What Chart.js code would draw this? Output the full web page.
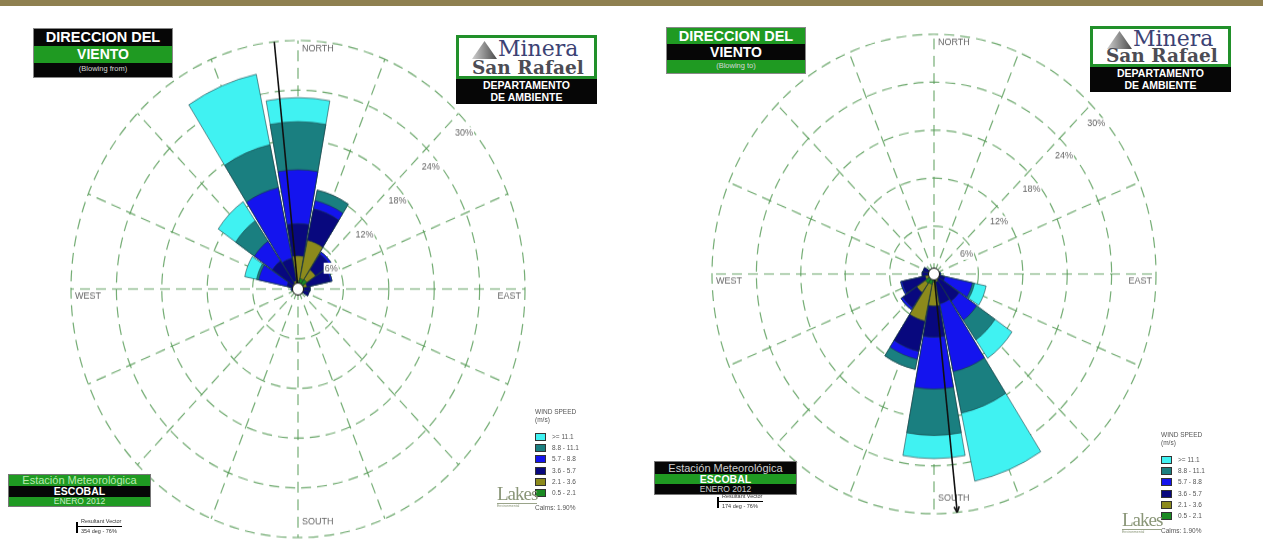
<!DOCTYPE html>
<html lang="es">
<head>
<meta charset="utf-8">
<title>Direccion del viento - Escobal</title>
<script src="https://cdn.jsdelivr.net/npm/chart.js@4.4.1/dist/chart.umd.min.js"></script>
<style>
  html, body { margin: 0; padding: 0; }
  body { width: 1263px; height: 541px; position: relative; overflow: hidden; background: #fff;
         font-family: "Liberation Sans", Arial, sans-serif; }
  #franja { position: absolute; left: 0; top: 0; width: 1263px; height: 6px; background: #8f8050; }
  canvas.rosa { position: absolute; transform-origin: 50% 50%; z-index: 1; }
  .caja { position: absolute; z-index: 2; }
  .titulo { width: 140px; box-sizing: border-box; border: 1px solid #888; }
  .titulo div { color: #fff; text-align: center; font-weight: bold; white-space: nowrap; overflow: hidden; }
  .negro { background: #060606; }
  .verde { background: #1f9a22; }
  .t1 { font-size: 14.5px; }
  .t2 { font-size: 14px; }
  .t3 { font-size: 7.5px; font-weight: normal !important; color: #d8d8d8 !important; }
  .logo { width: 141px; }
  .logo-blanco { position: relative; box-sizing: border-box; border: 3px solid #21902a; background: #fff; overflow: hidden; }
  .tri { position: absolute; width: 25px; height: 18px; clip-path: polygon(50% 0, 100% 100%, 0 100%);
         background: linear-gradient(90deg, #cfcfcf, #4a4a4a); }
  .minera { position: absolute; font-family: "DejaVu Serif", serif; font-size: 22px; line-height: 22px; color: #3c4274; }
  .sanrafael { position: absolute; font-family: "DejaVu Serif", serif; font-weight: bold; font-size: 18.5px; line-height: 19px;
               color: #4c4c54; white-space: nowrap; }
  .logo-negro { background: #060606; color: #fff; font-weight: bold; font-size: 10.5px; line-height: 11.5px;
                text-align: center; box-sizing: border-box; padding-top: 1px; }
  .estacion { width: 143px; box-sizing: border-box; border: 1px solid #777; }
  .estacion div { text-align: center; white-space: nowrap; overflow: hidden; }
  .e1 { font-size: 11px; color: #b9ecb0; }
  .e2 { font-size: 10.5px; font-weight: bold; color: #fff; }
  .e3 { font-size: 8.5px; color: #c9eec4; }
  .vector { width: 52px; height: 17px; }
  .vector .barra { position: absolute; left: 0; top: 5px; width: 1.5px; height: 11px; background: #000; }
  .vector .linea { position: absolute; left: 0; top: 9px; width: 46px; height: 1.3px; background: #000; }
  .vector .txt { position: absolute; left: 5px; font-size: 5.5px; color: #333; white-space: nowrap; }
  .leyenda { font-size: 6.5px; color: #555; width: 70px; }
  .leyenda .fila { position: absolute; left: 0; height: 8px; width: 70px; }
  .leyenda .muestra { position: absolute; left: 0; top: 0; width: 11px; height: 8px; box-sizing: border-box; border: 1px solid #333; }
  .leyenda .etq { position: absolute; left: 17px; top: 0; line-height: 8px; white-space: nowrap; }
  .lakes { font-family: "Liberation Serif", serif; font-size: 19px; line-height: 19px; color: #8a9678; letter-spacing: -1px; }
  .lakes span { display: block; font-family: "Liberation Sans", sans-serif; font-size: 3.5px; line-height: 4px;
                letter-spacing: 0; border-top: 1px solid #9aa48a; color: #8a9678; }
</style>
</head>
<body>
<div id="franja"></div>

<canvas id="rosaDesde" class="rosa" width="502" height="502" style="left:47px; top:38px; transform: scaleY(1.095);"></canvas>
<canvas id="rosaHacia" class="rosa" width="492" height="492" style="left:688px; top:28px; transform: scaleY(1.08);"></canvas>

<!-- titulos -->
<div class="caja titulo" style="left:33px; top:28px;">
  <div class="negro t1" style="height:17px; line-height:17px;">DIRECCION DEL</div>
  <div class="verde t2" style="height:17px; line-height:17px;">VIENTO</div>
  <div class="negro t3" style="height:14px; line-height:12px;">(Blowing from)</div>
</div>
<div class="caja titulo" style="left:666px; top:27px;">
  <div class="verde t1" style="height:16px; line-height:16px;">DIRECCION DEL</div>
  <div class="negro t2" style="height:16px; line-height:16px;">VIENTO</div>
  <div class="verde t3" style="height:13px; line-height:11px;">(Blowing to)</div>
</div>

<!-- logos -->
<div class="caja logo" style="left:456px; top:35px;">
  <div class="logo-blanco" style="height:44px;">
    <div class="tri" style="left:13px; top:3px;"></div>
    <div class="minera" style="left:39px; top:0px;">Minera</div>
    <div class="sanrafael" style="left:13px; top:20px;">San Rafael</div>
  </div>
  <div class="logo-negro" style="height:25px;">DEPARTAMENTO<br>DE AMBIENTE</div>
</div>
<div class="caja logo" style="left:1090px; top:26px;">
  <div class="logo-blanco" style="height:41px;">
    <div class="tri" style="left:14px; top:2px;"></div>
    <div class="minera" style="left:40px; top:-1px;">Minera</div>
    <div class="sanrafael" style="left:13px; top:17px;">San Rafael</div>
  </div>
  <div class="logo-negro" style="height:25px;">DEPARTAMENTO<br>DE AMBIENTE</div>
</div>

<!-- estacion -->
<div class="caja estacion" style="left:8px; top:474px;">
  <div class="verde e1" style="height:11px; line-height:11px;">Estación Meteorológica</div>
  <div class="negro e2" style="height:11px; line-height:11px;">ESCOBAL</div>
  <div class="verde e3" style="height:9px; line-height:9px;">ENERO 2012</div>
</div>
<div class="caja estacion" style="left:654px; top:461px;">
  <div class="negro e1" style="height:12px; line-height:12px; color:#d0d0d0;">Estación Meteorológica</div>
  <div class="verde e2" style="height:10px; line-height:10px;">ESCOBAL</div>
  <div class="negro e3" style="height:10px; line-height:10px; color:#d0d0d0;">ENERO 2012</div>
</div>

<div class="caja vector" id="vecDesde" style="left:76px; top:517px;"></div>
<div class="caja vector" id="vecHacia" style="left:717px; top:492px;"></div>

<div class="caja leyenda" id="leyDesde" style="left:535px; top:408px;"></div>
<div class="caja leyenda" id="leyHacia" style="left:1161px; top:431px;"></div>

<div class="caja lakes" style="left:497px; top:484px;">Lakes<span>Environmental</span></div>
<div class="caja lakes" style="left:1122px; top:510px;">Lakes<span>Environmental</span></div>

<script>
// direcciones de origen del viento, en sentido horario desde el norte
const direcciones = ['N', 'NNE', 'NE', 'ENE', 'E', 'ESE', 'SE', 'SSE', 'S', 'SSW', 'SW', 'WSW', 'W', 'WNW', 'NW', 'NNW'];
const rangosVelocidad = ['0.5 - 2.1', '2.1 - 3.6', '3.6 - 5.7', '5.7 - 8.8', '8.8 - 11.1', '>= 11.1'];
const coloresRango = ['#1a8a22', '#8c8a1c', '#08087e', '#1414ee', '#1a7f80', '#40f2f2'];

// frecuencia (%) por direccion, un arreglo por rango de velocidad (m/s)
const frec05_21 = [1.0, 1.3, 1.4, 0.6, 0.4, 0.3, 0.2, 0.2, 0.2, 0.1, 0.1, 0.1, 0.1, 0.2, 0.2, 0.2];
const frec21_36 = [3.0, 4.7, 1.4, 0.6, 0.4, 0.3, 0.2, 0.2, 0.2, 0.1, 0.1, 0.1, 0.2, 0.3, 0.6, 0.8];
const frec36_57 = [3.9, 3.9, 2.3, 3.2, 0.8, 0.9, 0.3, 0.2, 0.1, 0.1, 0.0, 0.1, 0.3, 1.0, 3.3, 2.8];
const frec57_88 = [6.5, 1.0, 0.3, 0.2, 0.0, 0.0, 0.0, 0.0, 0.0, 0.0, 0.0, 0.1, 0.3, 3.8, 2.9, 8.7];
const frec88_111 = [5.8, 1.3, 0.0, 0.0, 0.0, 0.0, 0.0, 0.0, 0.0, 0.0, 0.0, 0.0, 0.0, 0.3, 3.0, 5.3];
const frec111 = [2.9, 0.0, 0.0, 0.0, 0.0, 0.0, 0.0, 0.0, 0.0, 0.0, 0.0, 0.0, 0.0, 1.6, 2.8, 8.7];

const calmas = 1.90;
const anillos = [6, 12, 18, 24, 30];
const vectorDesde = 354;
const vectorHacia = 174;
const vectorPct = 76;

const SECTOR = 21;   // grados de cada petalo
const HUECO = 1.5;   // separacion entre petalos
const colorGrilla = 'rgba(78,150,78,0.78)';

const frecuencias = [frec05_21, frec21_36, frec36_57, frec57_88, frec88_111, frec111];

// petalos apilados: cada rango se dibuja con el acumulado hasta el
function acumulados() {
    var salida = [];
    var suma = direcciones.map(function () { return 0; });
    frecuencias.forEach(function (arr) {
        suma = suma.map(function (s, i) { return s + arr[i]; });
        salida.push(suma);
    });
    return salida;
}

// intercala un hueco vacio entre petalos
function conHuecos(valores) {
    var out = [];
    valores.forEach(function (v) { out.push(v); out.push(0); });
    return out;
}

function punto(esc, valor, rumbo) {
    var d = esc.getDistanceFromCenterForValue(valor);
    var a = (rumbo - 90) * Math.PI / 180;
    return { x: esc.xCenter + Math.cos(a) * d, y: esc.yCenter + Math.sin(a) * d };
}

const extrasRosa = {
    id: 'extrasRosa',
    beforeDatasetsDraw: function (chart) {
        var r = chart.scales.r;
        var ctx = chart.ctx;
        ctx.save();
        ctx.strokeStyle = colorGrilla;
        ctx.lineWidth = 1.2;
        ctx.setLineDash([10, 6]);
        direcciones.forEach(function (d, i) {
            var p = punto(r, r.max, i * 22.5);
            ctx.beginPath();
            ctx.moveTo(r.xCenter, r.yCenter);
            ctx.lineTo(p.x, p.y);
            ctx.stroke();
        });
        ctx.restore();
    },
    afterDatasetsDraw: function (chart, args, opts) {
        var r = chart.scales.r;
        var ctx = chart.ctx;
        var cx = r.xCenter, cy = r.yCenter, R = r.drawingArea;
        ctx.save();

        // rotulos de porcentaje
        ctx.font = '9px "Liberation Sans", Arial, sans-serif';
        ctx.textAlign = 'center';
        ctx.textBaseline = 'middle';
        r.ticks.forEach(function (t) {
            if (t.value <= 0) return;
            var p = punto(r, t.value, 47);
            var txt = t.value + '%';
            var w = ctx.measureText(txt).width;
            ctx.fillStyle = '#fff';
            ctx.fillRect(p.x - w / 2 - 1, p.y + 12 - 5, w + 2, 10);
            ctx.fillStyle = '#666';
            ctx.fillText(txt, p.x, p.y + 12);
        });

        // puntos cardinales
        ctx.fillStyle = '#666';
        ctx.textAlign = 'left';
        ctx.fillText('NORTH', cx + 4, cy - R + 8);
        ctx.fillText('SOUTH', cx + 4, cy + R - 14);
        ctx.fillText('WEST', cx - R + 4, cy + 7);
        ctx.textAlign = 'right';
        ctx.fillText('EAST', cx + R - 4, cy + 7);

        // vector resultante
        var fin = punto(r, r.max, opts.vector);
        ctx.strokeStyle = '#111';
        ctx.lineWidth = 1.6;
        ctx.beginPath();
        ctx.moveTo(cx, cy);
        ctx.lineTo(fin.x, fin.y);
        ctx.stroke();
        if (opts.flecha) {
            var a = (opts.vector - 90) * Math.PI / 180;
            [0.45, -0.45].forEach(function (da) {
                ctx.beginPath();
                ctx.moveTo(fin.x, fin.y);
                ctx.lineTo(fin.x - Math.cos(a + da) * 6, fin.y - Math.sin(a + da) * 6);
                ctx.stroke();
            });
        }

        // circulo de calmas
        ctx.fillStyle = '#fff';
        ctx.strokeStyle = '#111';
        ctx.lineWidth = 1;
        ctx.beginPath();
        ctx.arc(cx, cy, 5.5, 0, Math.PI * 2);
        ctx.fill();
        ctx.stroke();
        ctx.restore();
    }
};

function crearRosa(idCanvas, giro, rumboVector, flecha) {
    var acum = acumulados();
    var etiquetas = [];
    direcciones.forEach(function (d) { etiquetas.push(d); etiquetas.push(''); });

    var datasets = acum.map(function (valores, k) {
        return {
            label: rangosVelocidad[k],
            data: conHuecos(valores),
            backgroundColor: coloresRango[k],
            borderColor: 'rgba(25,55,60,0.7)',
            borderWidth: function (c) { return c.dataIndex % 2 ? 0 : 0.8; },
            angle: function (c) { return c.dataIndex % 2 ? HUECO : SECTOR; }
        };
    });

    return new Chart(document.getElementById(idCanvas), {
        type: 'polarArea',
        data: { labels: etiquetas, datasets: datasets },
        plugins: [extrasRosa],
        options: {
            responsive: false,
            animation: false,
            layout: { padding: 24 },
            plugins: {
                legend: { display: false },
                tooltip: { enabled: false },
                extrasRosa: { vector: rumboVector, flecha: flecha }
            },
            scales: {
                r: {
                    min: 0,
                    max: anillos[anillos.length - 1],
                    startAngle: giro - SECTOR / 2,
                    afterBuildTicks: function (esc) {
                        esc.ticks = [0].concat(anillos).map(function (v) { return { value: v }; });
                    },
                    ticks: { display: false },
                    grid: { circular: true, color: colorGrilla, lineWidth: 1.2, borderDash: [10, 6] },
                    border: { dash: [10, 6] },
                    angleLines: { display: false },
                    pointLabels: { display: false }
                }
            }
        }
    });
}

function armarLeyenda(id) {
    var cont = document.getElementById(id);
    var html = '<div style="position:absolute;left:0;top:0;line-height:8px;white-space:nowrap;">WIND SPEED<br>(m/s)</div>';
    for (var k = rangosVelocidad.length - 1, fila = 0; k >= 0; k--, fila++) {
        html += '<div class="fila" style="top:' + (25 + fila * 11.2) + 'px">' +
            '<div class="muestra" style="background:' + coloresRango[k] + '"></div>' +
            '<div class="etq">' + rangosVelocidad[k] + '</div></div>';
    }
    html += '<div style="position:absolute;left:0;top:96px;white-space:nowrap;">Calms: ' + calmas.toFixed(2) + '%</div>';
    cont.innerHTML = html;
}

function armarVector(id, rumbo) {
    document.getElementById(id).innerHTML =
        '<div class="barra"></div><div class="linea"></div>' +
        '<div class="txt" style="top:1px">Resultant Vector</div>' +
        '<div class="txt" style="top:11px">' + rumbo + ' deg - ' + vectorPct + '%</div>';
}

crearRosa('rosaDesde', 0, vectorDesde, false);
crearRosa('rosaHacia', 180, vectorHacia, true);
armarLeyenda('leyDesde');
armarLeyenda('leyHacia');
armarVector('vecDesde', vectorDesde);
armarVector('vecHacia', vectorHacia);
</script>
</body>
</html>
